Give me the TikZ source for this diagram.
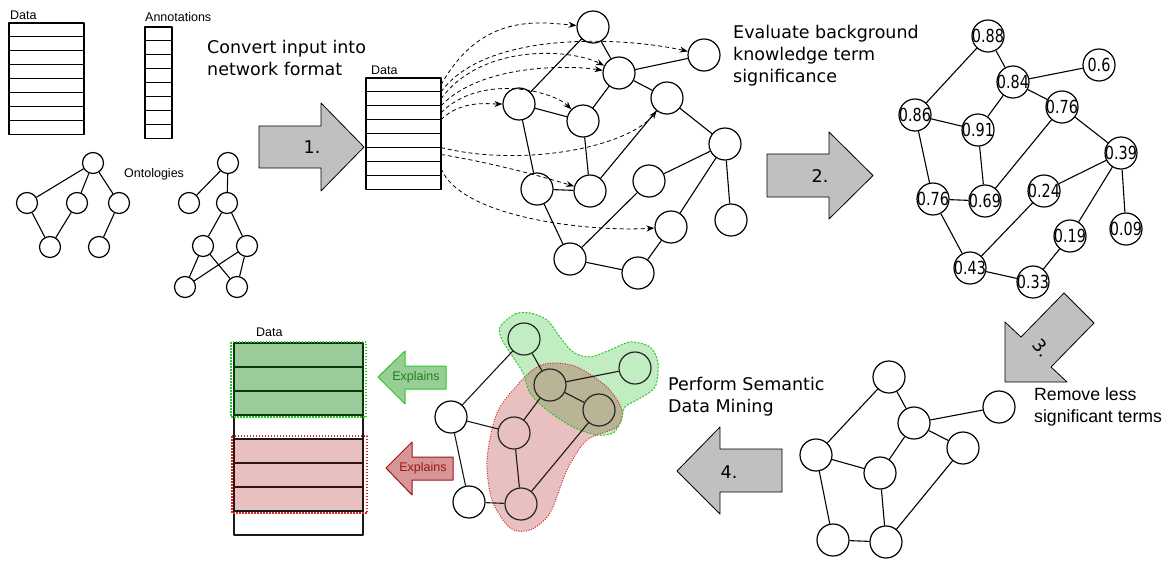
\documentclass[tikz,border=0pt]{standalone}
\usepackage{fontspec}
\setmainfont{DejaVu Sans}
\newfontfamily\arialfont{Liberation Sans}
\usetikzlibrary{arrows.meta, calc}
\definecolor{arrowgray}{RGB}{192,192,192}
\definecolor{blobgreen}{RGB}{194,236,194}
\definecolor{blobred}{RGB}{232,192,192}
\definecolor{blobmix}{RGB}{186,180,150}
\definecolor{rowgreen}{RGB}{153,204,153}
\definecolor{rowred}{RGB}{232,192,192}
\definecolor{linegreen}{RGB}{15,50,15}
\definecolor{linered}{RGB}{45,20,12}
\definecolor{dotgreen}{RGB}{40,200,40}
\definecolor{dotred}{RGB}{210,40,40}
\definecolor{tipgreen}{RGB}{150,206,150}
\definecolor{tipred}{RGB}{214,150,150}
\definecolor{txtgreen}{RGB}{30,130,30}
\definecolor{txtred}{RGB}{160,20,20}
\newcommand{\nar}[1]{\scalebox{0.8}[1]{#1}}
\tikzset{
  vert/.style={circle, draw, fill=white, line width=1.2pt, minimum size=32pt, inner sep=0pt},
  onto/.style={vert, minimum size=21pt},
  wvert/.style={vert, label={[font=\fontsize{18}{18}\selectfont, inner sep=0pt]center:\nar{#1}}},
  hvert/.style={vert, fill=none, draw=black!85},
  tcell/.style={draw, line width=1.1pt},
  dcell/.style={draw, line width=1.1pt, minimum width=75pt, minimum height=13.9pt, inner sep=0pt, outer sep=0pt},
  bcell/.style={draw=#1, line width=2.6pt, minimum width=129pt, minimum height=24pt, inner sep=0pt, outer sep=0pt},
  link/.style={line width=0.8pt, dash pattern=on 4pt off 3pt, -{Stealth[length=8pt,width=6pt]}},
  block/.style={draw, fill=arrowgray, line width=0.8pt},
  small/.style={font=\arialfont\fontsize{12.5}{14}\selectfont, inner sep=0pt, anchor=base west},
  caption/.style={font=\fontsize{17.5}{22}\selectfont, align=left, inner sep=0pt, anchor=base west},
  step label/.style={font=\fontsize{17.5}{20}\selectfont, inner sep=0pt},
  hlbox/.style={draw=#1, line width=1.3pt, dash pattern=on 1.5pt off 1.5pt}
}
\begin{document}
\begin{tikzpicture}[x=1pt, y=-1pt, line join=round]
\useasboundingbox (0,0) rectangle (1166,560);

% input data
\node[small] at (10,19) {Data};
\foreach \i in {0,...,7}
  \draw[tcell] (9,{23+13.9*\i}) rectangle ++(75,13.9);
\node[small] at (145,21) {Annotations};
\foreach \i in {0,...,7}
  \draw[tcell] (145,{27+13.9*\i}) rectangle ++(27,13.9);
\node[small] at (124,177) {Ontologies};

\node[onto] (o1) at (93,163) {};
\node[onto] (o2) at (27,203) {};
\node[onto] (o3) at (77,203) {};
\node[onto] (o4) at (119,203) {};
\node[onto] (o5) at (50,247) {};
\node[onto] (o6) at (99,247) {};
\foreach \u/\v in {o1/o2, o1/o3, o1/o4, o2/o5, o3/o5, o4/o6}
  \draw[line width=1.1pt] (\u) -- (\v);

\node[onto] (q1) at (228,163) {};
\node[onto] (q2) at (189,203) {};
\node[onto] (q3) at (227,203) {};
\node[onto] (q4) at (203,246) {};
\node[onto] (q5) at (247,246) {};
\node[onto] (q6) at (185,287) {};
\node[onto] (q7) at (237,287) {};
\foreach \u/\v in {q1/q2, q1/q3, q3/q4, q3/q5, q4/q6, q4/q7, q5/q6, q5/q7}
  \draw[line width=1.1pt] (\u) -- (\v);

\node[caption] (cap1) at (207,75) {Convert input into\\network format};
\draw[block] (259,126) -- (321,126) -- (321,103) -- (364,147) -- (321,191) -- (321,168) -- (259,168) -- cycle;
\node[step label] at (312,147) {1.};

% network
\node[small] at (371,74) {Data};
\foreach \i in {1,...,8}
  \node[dcell] (d\i) at (403.5,{78+13.9*(\i-0.5)}) {};

\node[vert] (n1) at (593,27) {};
\node[vert] (n2) at (704,55) {};
\node[vert] (n3) at (619,73) {};
\node[vert] (n4) at (519,104) {};
\node[vert] (n5) at (583,121) {};
\node[vert] (n6) at (667,98) {};
\node[vert] (n7) at (725,144) {};
\node[vert] (n8) at (537,189) {};
\node[vert] (n9) at (590,191) {};
\node[vert] (n10) at (649,181) {};
\node[vert] (n11) at (731,220) {};
\node[vert] (n12) at (671,227) {};
\node[vert] (n13) at (570,259) {};
\node[vert] (n14) at (638,273) {};
\foreach \u/\v in {n1/n4, n1/n3, n3/n2, n3/n5, n3/n6, n4/n5, n4/n8, n5/n9, n8/n9, n9/n6,
                   n6/n7, n7/n10, n7/n11, n7/n12, n8/n13, n13/n10, n13/n14, n14/n12}
  \draw[line width=1.1pt] (\u) -- (\v);

\draw[link] (d1.east) .. controls +(40,-72) and +(-55,-5) .. (n1);
\draw[link] (d1.south east) .. controls +(45,-62) and +(-80,-18) .. (n2);
\draw[link] (d2.east) .. controls +(40,-55) and +(-50,-25) .. (n3);
\draw[link] (d2.south east) .. controls +(40,-42) and +(-50,-8) .. (n3);
\draw[link] (d3.east) .. controls +(40,-40) and +(-30,-30) .. (n5);
\draw[link] (d3.south east) .. controls +(20,-20) and +(-30,0) .. (n4);
\draw[link] (d5.south east) .. controls +(80,20) and +(-40,50) .. (n6);
\draw[link] (d6.east) .. controls +(60,10) and +(-40,-12) .. (n9);
\draw[link] (d7.east) .. controls +(20,50) and +(-80,5) .. (n12);

\node[caption] (cap2) at (733,82) {Evaluate background\\knowledge term\\significance};
\draw[block] (767,154) -- (829,154) -- (829,132) -- (873,175.5) -- (829,219) -- (829,197) -- (767,197) -- cycle;
\node[step label] at (820,176) {2.};

% weighted network
\node[wvert=0.88] (w1) at (988,36) {};
\node[wvert=0.6] (w2) at (1099,65) {};
\node[wvert=0.84] (w3) at (1013,82) {};
\node[wvert=0.86] (w4) at (915,115) {};
\node[wvert=0.91] (w5) at (978,130) {};
\node[wvert=0.76] (w6) at (1062,107) {};
\node[wvert=0.39] (w7) at (1121,153) {};
\node[wvert=0.76] (w8) at (933,199) {};
\node[wvert=0.69] (w9) at (985,201) {};
\node[wvert=0.24] (w10) at (1044,191) {};
\node[wvert=0.09] (w11) at (1126,229) {};
\node[wvert=0.19] (w12) at (1070,236) {};
\node[wvert=0.43] (w13) at (970,268) {};
\node[wvert=0.33] (w14) at (1033,282) {};
\foreach \u/\v in {w1/w4, w1/w3, w3/w2, w3/w5, w3/w6, w4/w5, w4/w8, w5/w9, w8/w9, w9/w6,
                   w6/w7, w7/w10, w7/w11, w7/w12, w8/w13, w13/w10, w13/w14, w14/w12}
  \draw[line width=1.1pt] (\u) -- (\v);

\draw[block] (1005,382) -- (1005,322) -- (1021,337) -- (1064,293) -- (1094,323) -- (1051,367) -- (1067,382) -- cycle;
\node[step label] at (1042,348) {\rotatebox{-50}{3.}};
\node[caption, font=\arialfont\fontsize{17.7}{22}\selectfont] (cap3) at (1034,422) {Remove less\\significant terms};

% reduced network
\node[vert] (m1) at (889,377) {};
\node[vert] (m2) at (999,407) {};
\node[vert] (m3) at (914,423) {};
\node[vert] (m4) at (963,448) {};
\node[vert] (m5) at (816,455) {};
\node[vert] (m6) at (880,473) {};
\node[vert] (m7) at (833,540) {};
\node[vert] (m8) at (886,542) {};
\foreach \u/\v in {m1/m5, m1/m3, m3/m2, m3/m6, m3/m4, m5/m6, m5/m7, m6/m8, m7/m8, m4/m8}
  \draw[line width=1.1pt] (\u) -- (\v);

\node[caption] (cap4) at (668,412) {Perform Semantic\\Data Mining};
\draw[block] (782,449) -- (720,449) -- (720,427) -- (677,471) -- (720,514) -- (720,492) -- (782,492) -- cycle;
\node[step label] at (729,472) {4.};

% mined patterns
\fill[blobgreen] plot[smooth cycle] coordinates {(500,327) (515,314) (530,313) (547,320) (560,337) (573,352) (590,357) (610,350) (630,342) (650,347) (658,363) (655,387) (637,400) (625,407) (620,423) (613,433) (597,435) (573,427) (547,410) (530,393) (523,373) (513,357) (502,340)};
\fill[blobred] plot[smooth cycle] coordinates {(553,363) (577,367) (607,387) (622,410) (617,427) (587,440) (567,470) (550,513) (530,530) (510,528) (492,500) (487,460) (497,413) (520,382) (537,367)};
\begin{scope}
  \clip plot[smooth cycle] coordinates {(500,327) (515,314) (530,313) (547,320) (560,337) (573,352) (590,357) (610,350) (630,342) (650,347) (658,363) (655,387) (637,400) (625,407) (620,423) (613,433) (597,435) (573,427) (547,410) (530,393) (523,373) (513,357) (502,340)};
  \fill[blobmix] plot[smooth cycle] coordinates {(553,363) (577,367) (607,387) (622,410) (617,427) (587,440) (567,470) (550,513) (530,530) (510,528) (492,500) (487,460) (497,413) (520,382) (537,367)};
\end{scope}
\draw[dotred, line width=1pt, dash pattern=on 1pt off 1.5pt] plot[smooth cycle] coordinates {(553,363) (577,367) (607,387) (622,410) (617,427) (587,440) (567,470) (550,513) (530,530) (510,528) (492,500) (487,460) (497,413) (520,382) (537,367)};
\draw[dotgreen, line width=1pt, dash pattern=on 2pt off 1.5pt] plot[smooth cycle] coordinates {(500,327) (515,314) (530,313) (547,320) (560,337) (573,352) (590,357) (610,350) (630,342) (650,347) (658,363) (655,387) (637,400) (625,407) (620,423) (613,433) (597,435) (573,427) (547,410) (530,393) (523,373) (513,357) (502,340)};

\node[hvert] (p1) at (524,339) {};
\node[hvert] (p2) at (635,368) {};
\node[hvert] (p3) at (550,385) {};
\node[hvert] (p4) at (599,410) {};
\node[vert] (p5) at (451,417) {};
\node[hvert] (p6) at (514,433) {};
\node[vert] (p7) at (469,502) {};
\node[hvert] (p8) at (521,504) {};
\foreach \u/\v in {p1/p5, p1/p3, p3/p2, p3/p4, p3/p6, p5/p6, p5/p7, p6/p8, p7/p8, p4/p8}
  \draw[line width=1.1pt, black!90] (\u) -- (\v);

\draw[fill=tipgreen, draw=dotgreen, line width=1pt] (378,377) -- (405,351) -- (405,366) -- (446,366) -- (446,389) -- (405,389) -- (405,404) -- cycle;
\node[font=\arialfont\fontsize{12.5}{14}\selectfont, text=txtgreen, inner sep=0pt] at (416,377) {Explains};
\draw[fill=tipred, draw=txtred, line width=1pt] (386,468) -- (412,442) -- (412,457) -- (453,457) -- (453,480) -- (412,480) -- (412,495) -- cycle;
\node[font=\arialfont\fontsize{12.5}{14}\selectfont, text=txtred, inner sep=0pt] at (423,468) {Explains};

\node[small] at (256,336) {Data};
\foreach \i in {5,6,7}
  \node[bcell=linered, fill=rowred] (r\i) at (298.5,{343+24*(\i-0.5)}) {};
\foreach \i in {4,8}
  \node[bcell=black!90] (r\i) at (298.5,{343+24*(\i-0.5)}) {};
\foreach \i in {1,2,3}
  \node[bcell=linegreen, fill=rowgreen] (r\i) at (298.5,{343+24*(\i-0.5)}) {};
\draw[hlbox=dotgreen] ($(r1.north west)+(-3,-1)$) rectangle ($(r3.south east)+(3,2)$);
\draw[hlbox=dotred] ($(r5.north west)+(-2,-3)$) rectangle ($(r7.south east)+(4,2)$);
\end{tikzpicture}
\end{document}
